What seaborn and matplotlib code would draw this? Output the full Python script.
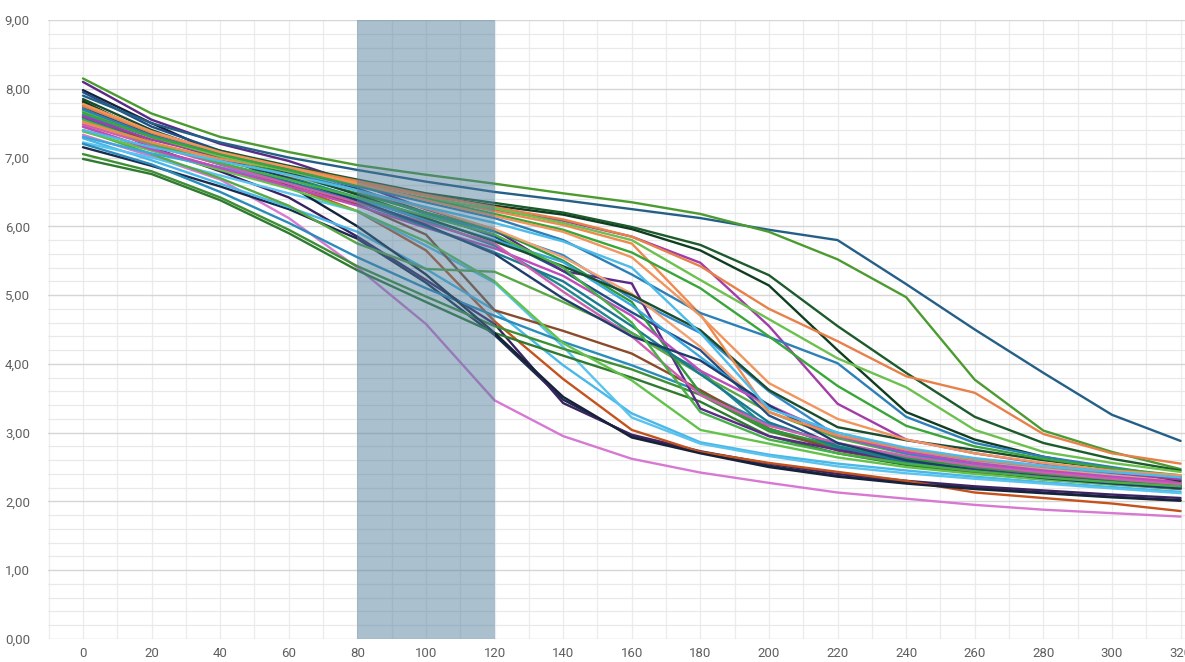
import matplotlib
matplotlib.use("Agg")
import matplotlib.pyplot as plt
from matplotlib.ticker import FuncFormatter, MultipleLocator
import pandas as pd
import seaborn as sns

# Sampling positions
x_values = [0, 20, 40, 60, 80, 100, 120, 140, 160, 180, 200, 220, 240, 260, 280, 300, 320]

# Early decline
pink = [7.33, 7.02, 6.68, 6.12, 5.40, 4.58, 3.47, 2.95, 2.62, 2.42, 2.27, 2.13, 2.04, 1.95, 1.88, 1.83, 1.78]
navy = [7.15, 6.88, 6.58, 6.25, 5.82, 5.18, 4.42, 3.48, 2.95, 2.71, 2.52, 2.37, 2.28, 2.20, 2.13, 2.07, 2.02]
dark_purple = [7.58, 7.15, 6.80, 6.42, 5.85, 5.22, 4.58, 3.43, 2.97, 2.73, 2.55, 2.40, 2.30, 2.22, 2.16, 2.10, 2.05]
rust = [7.45, 7.12, 6.85, 6.60, 6.22, 5.65, 4.62, 3.78, 3.04, 2.72, 2.56, 2.43, 2.30, 2.13, 2.05, 1.97, 1.86]
sky_a = [7.28, 6.96, 6.62, 6.28, 5.92, 5.38, 4.78, 3.98, 3.28, 2.86, 2.68, 2.55, 2.45, 2.36, 2.28, 2.21, 2.14]
sky_b = [7.22, 7.00, 6.74, 6.48, 6.22, 5.72, 5.18, 4.25, 3.22, 2.84, 2.66, 2.51, 2.41, 2.33, 2.26, 2.19, 2.12]
ocean = [7.20, 6.90, 6.50, 6.05, 5.55, 5.10, 4.70, 4.32, 3.98, 3.60, 3.12, 2.84, 2.64, 2.50, 2.40, 2.31, 2.22]
green_low_a = [7.05, 6.80, 6.42, 5.95, 5.42, 4.98, 4.55, 4.22, 3.92, 3.55, 3.02, 2.76, 2.58, 2.46, 2.36, 2.28, 2.20]
green_low_b = [6.98, 6.76, 6.38, 5.90, 5.36, 4.90, 4.45, 4.12, 3.80, 3.45, 2.95, 2.70, 2.53, 2.41, 2.32, 2.25, 2.18]
ink = [7.98, 7.50, 7.05, 6.60, 6.00, 5.30, 4.45, 3.52, 2.93, 2.70, 2.50, 2.36, 2.26, 2.18, 2.12, 2.06, 2.01]

# Mid decline
teal = [7.72, 7.32, 6.98, 6.72, 6.42, 6.08, 5.72, 5.12, 4.45, 3.90, 3.05, 2.78, 2.61, 2.49, 2.39, 2.31, 2.23]
brown = [7.62, 7.22, 6.92, 6.62, 6.32, 5.88, 4.78, 4.48, 4.15, 3.62, 3.06, 2.74, 2.56, 2.43, 2.34, 2.26, 2.19]
grass = [7.40, 7.05, 6.70, 6.30, 5.75, 5.38, 5.34, 4.90, 4.45, 3.85, 3.30, 2.92, 2.69, 2.53, 2.43, 2.34, 2.27]
cobalt = [7.95, 7.45, 7.10, 6.85, 6.55, 6.20, 5.85, 5.35, 4.75, 4.20, 3.25, 2.80, 2.59, 2.46, 2.36, 2.28, 2.21]
azure = [7.62, 7.30, 7.05, 6.80, 6.52, 6.18, 5.92, 5.58, 4.95, 4.45, 3.60, 2.95, 2.70, 2.53, 2.43, 2.34, 2.26]
violet = [8.10, 7.55, 7.20, 6.95, 6.62, 6.25, 5.95, 5.35, 5.17, 3.35, 2.95, 2.75, 2.58, 2.46, 2.37, 2.30, 2.23]
lime = [7.38, 7.10, 6.82, 6.55, 6.22, 5.78, 5.20, 4.30, 3.76, 3.04, 2.84, 2.64, 2.50, 2.40, 2.32, 2.25, 2.19]
green_mid = [7.68, 7.32, 7.02, 6.75, 6.48, 6.20, 5.95, 5.50, 4.90, 3.58, 3.05, 2.80, 2.62, 2.50, 2.40, 2.32, 2.25]
peach = [7.50, 7.20, 6.95, 6.74, 6.52, 6.26, 5.96, 5.55, 5.02, 4.25, 3.30, 2.96, 2.73, 2.58, 2.47, 2.38, 2.30]
cyan = [7.30, 7.06, 6.86, 6.64, 6.40, 6.10, 5.80, 5.48, 4.85, 4.10, 3.36, 3.00, 2.76, 2.60, 2.50, 2.41, 2.33]
forest = [7.85, 7.40, 7.05, 6.78, 6.46, 6.12, 5.78, 5.42, 5.00, 4.49, 3.62, 3.08, 2.89, 2.75, 2.60, 2.48, 2.35]
orchid = [7.45, 7.12, 6.85, 6.58, 6.30, 5.98, 5.68, 5.28, 4.70, 3.90, 3.40, 2.95, 2.72, 2.56, 2.45, 2.36, 2.28]
petrol = [7.58, 7.20, 6.90, 6.65, 6.35, 6.00, 5.62, 5.20, 4.55, 3.85, 3.15, 2.80, 2.57, 2.45, 2.35, 2.27, 2.20]
rose = [7.48, 7.18, 6.90, 6.62, 6.35, 6.05, 5.75, 5.05, 4.40, 3.55, 3.10, 2.85, 2.66, 2.52, 2.42, 2.33, 2.25]
midnight = [7.75, 7.30, 6.98, 6.70, 6.38, 6.02, 5.60, 4.95, 4.40, 4.05, 3.40, 2.85, 2.60, 2.45, 2.34, 2.26, 2.19]
leaf = [7.55, 7.20, 6.92, 6.68, 6.42, 6.15, 5.88, 5.40, 4.60, 3.30, 2.90, 2.70, 2.55, 2.44, 2.35, 2.28, 2.22]

# Late decline
steel = [7.90, 7.50, 7.22, 7.00, 6.82, 6.65, 6.50, 6.38, 6.25, 6.12, 5.95, 5.80, 5.16, 4.50, 3.87, 3.26, 2.88]
green_top = [8.15, 7.64, 7.30, 7.08, 6.89, 6.75, 6.62, 6.48, 6.35, 6.18, 5.92, 5.52, 4.97, 3.77, 3.03, 2.72, 2.47]
pine_a = [7.80, 7.35, 7.10, 6.88, 6.68, 6.48, 6.34, 6.20, 5.99, 5.73, 5.29, 4.55, 3.87, 3.23, 2.85, 2.62, 2.45]
pine_b = [7.82, 7.32, 7.08, 6.85, 6.64, 6.45, 6.30, 6.17, 5.96, 5.65, 5.14, 4.20, 3.30, 2.90, 2.65, 2.47, 2.30]
magenta = [7.60, 7.26, 7.02, 6.80, 6.60, 6.40, 6.24, 6.08, 5.85, 5.47, 4.55, 3.42, 2.90, 2.70, 2.55, 2.42, 2.32]
orange_a = [7.75, 7.36, 7.06, 6.86, 6.66, 6.46, 6.28, 6.10, 5.85, 5.42, 4.80, 4.33, 3.82, 3.58, 2.98, 2.70, 2.55]
orange_b = [7.52, 7.22, 6.98, 6.82, 6.64, 6.44, 6.22, 6.02, 5.75, 4.72, 3.30, 2.96, 2.76, 2.61, 2.51, 2.43, 2.36]
spring = [7.68, 7.30, 7.02, 6.80, 6.58, 6.40, 6.26, 6.05, 5.80, 5.22, 4.65, 4.08, 3.66, 3.04, 2.72, 2.56, 2.43]
denim = [7.70, 7.32, 7.05, 6.82, 6.58, 6.35, 6.12, 5.80, 5.30, 4.74, 4.39, 4.01, 3.23, 2.85, 2.65, 2.50, 2.35]
clover = [7.65, 7.30, 7.05, 6.82, 6.60, 6.40, 6.18, 5.95, 5.62, 5.10, 4.40, 3.68, 3.10, 2.80, 2.62, 2.48, 2.38]
apricot = [7.78, 7.38, 7.08, 6.86, 6.62, 6.38, 6.15, 5.92, 5.55, 4.70, 3.72, 3.20, 2.90, 2.70, 2.56, 2.45, 2.38]
sky_c = [7.40, 7.15, 6.95, 6.75, 6.52, 6.28, 6.05, 5.78, 5.40, 4.45, 3.35, 3.00, 2.78, 2.63, 2.52, 2.43, 2.35]

series = {
    "pink": (pink, "#d778d2"), "navy": (navy, "#1c2c4c"), "dark_purple": (dark_purple, "#3a2360"),
    "rust": (rust, "#c4521c"), "sky_a": (sky_a, "#49b8e8"), "sky_b": (sky_b, "#5ac3ee"),
    "ocean": (ocean, "#2a8cba"), "green_low_a": (green_low_a, "#3f8f35"),
    "green_low_b": (green_low_b, "#2f7a30"), "ink": (ink, "#152238"),
    "teal": (teal, "#1f8a8c"), "brown": (brown, "#8b4b2b"), "grass": (grass, "#5aa845"),
    "cobalt": (cobalt, "#234f88"), "azure": (azure, "#3388c8"), "violet": (violet, "#5b2a86"),
    "lime": (lime, "#63c24b"), "green_mid": (green_mid, "#2f9a3c"), "peach": (peach, "#f2a374"),
    "cyan": (cyan, "#39a8dc"), "forest": (forest, "#1a4d2e"), "orchid": (orchid, "#c04bbf"),
    "petrol": (petrol, "#1b7a90"), "rose": (rose, "#cc5fb0"), "midnight": (midnight, "#1f3d6b"),
    "leaf": (leaf, "#48b048"),
    "steel": (steel, "#245f87"), "green_top": (green_top, "#4c9b30"), "pine_a": (pine_a, "#1d5a2c"),
    "pine_b": (pine_b, "#0f3d20"), "magenta": (magenta, "#a23ca8"), "orange_a": (orange_a, "#e8804a"),
    "orange_b": (orange_b, "#ee8a50"), "spring": (spring, "#6cc04e"), "denim": (denim, "#2d7fb8"),
    "clover": (clover, "#3aa53a"), "apricot": (apricot, "#f0955e"), "sky_c": (sky_c, "#4dbbe8"),
}

rows = []
for name, (vals, _) in series.items():
    for xv, yv in zip(x_values, vals):
        rows.append({"x": xv, "y": yv, "series": name})
df = pd.DataFrame(rows)
palette = {name: color for name, (_, color) in series.items()}

sns.set_theme(style="white")
plt.rcParams["font.family"] = ["Roboto", "DejaVu Sans"]

fig = plt.figure(figsize=(11.85, 6.62), dpi=100)
ax = fig.add_axes([48 / 1185, 1 - 639 / 662, 1 - 48 / 1185, (639 - 20) / 662])

sns.lineplot(data=df, x="x", y="y", hue="series", palette=palette, legend=False,
             linewidth=1.7, ax=ax, zorder=3, sort=False, estimator=None)

# highlighted window
ax.axvspan(80, 120, color="#4f7c99", alpha=0.48, lw=0, zorder=4)

ax.set_xlim(-10.2, 321.3)
ax.set_ylim(0, 9)
ax.xaxis.set_major_locator(MultipleLocator(20))
ax.xaxis.set_minor_locator(MultipleLocator(10))
ax.yaxis.set_major_locator(MultipleLocator(1))
ax.yaxis.set_minor_locator(MultipleLocator(0.2))
ax.grid(which="major", axis="y", color="#d6d6d6", lw=1.0, zorder=0)
ax.grid(which="minor", axis="y", color="#e9e9e9", lw=0.9, zorder=0)
ax.grid(which="both", axis="x", color="#ececec", lw=0.9, zorder=0)
ax.set_axisbelow(True)
ax.yaxis.set_major_formatter(FuncFormatter(lambda v, p: f"{v:.2f}".replace(".", ",")))
ax.xaxis.set_major_formatter(FuncFormatter(lambda v, p: f"{int(v)}"))
ax.tick_params(axis="both", which="both", length=0, labelsize=9.5, labelcolor="#5f5f5f")
ax.tick_params(axis="y", pad=13)
ax.tick_params(axis="x", pad=6)
for s in ax.spines.values():
    s.set_visible(False)
ax.set_xlabel("")
ax.set_ylabel("")

fig.savefig("out.png", dpi=100)
